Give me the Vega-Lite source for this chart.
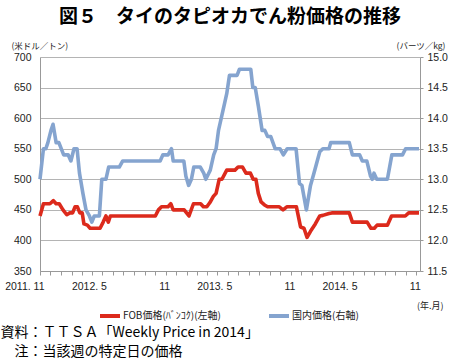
{
  "$schema": "https://vega.github.io/schema/vega-lite/v6.json",
  "autosize": "none",
  "width": 380,
  "height": 214,
  "padding": {"left": 40, "top": 57, "right": 30, "bottom": 88},
  "background": "white",
  "title": {
    "text": "図５　タイのタピオカでん粉価格の推移",
    "font": "Noto Sans CJK JP",
    "fontSize": 19,
    "fontWeight": "bold",
    "color": "#000000",
    "anchor": "middle",
    "frame": "group",
    "offset": 14
  },
  "config": {
    "view": {"stroke": null},
    "font": "Noto Sans CJK JP"
  },
  "datasets": {
    "fob": [
      {"date": "2011-11-01", "price": 440},
      {"date": "2011-11-11", "price": 460},
      {"date": "2011-11-30", "price": 460},
      {"date": "2011-12-10", "price": 465},
      {"date": "2011-12-18", "price": 460},
      {"date": "2011-12-27", "price": 460},
      {"date": "2012-01-07", "price": 450},
      {"date": "2012-01-18", "price": 442},
      {"date": "2012-01-27", "price": 445},
      {"date": "2012-02-04", "price": 445},
      {"date": "2012-02-11", "price": 455},
      {"date": "2012-02-18", "price": 455},
      {"date": "2012-02-25", "price": 445},
      {"date": "2012-03-03", "price": 445},
      {"date": "2012-03-08", "price": 427},
      {"date": "2012-03-18", "price": 425},
      {"date": "2012-03-26", "price": 420},
      {"date": "2012-04-24", "price": 420},
      {"date": "2012-05-03", "price": 430},
      {"date": "2012-05-11", "price": 440},
      {"date": "2012-05-18", "price": 430},
      {"date": "2012-05-24", "price": 440},
      {"date": "2012-10-02", "price": 440},
      {"date": "2012-10-11", "price": 450},
      {"date": "2012-10-20", "price": 455},
      {"date": "2012-11-08", "price": 455},
      {"date": "2012-11-16", "price": 460},
      {"date": "2012-11-23", "price": 450},
      {"date": "2012-12-25", "price": 450},
      {"date": "2013-01-08", "price": 440},
      {"date": "2013-01-21", "price": 460},
      {"date": "2013-02-11", "price": 460},
      {"date": "2013-02-19", "price": 455},
      {"date": "2013-03-01", "price": 455},
      {"date": "2013-03-10", "price": 462},
      {"date": "2013-03-20", "price": 472},
      {"date": "2013-03-28", "price": 477},
      {"date": "2013-04-06", "price": 500},
      {"date": "2013-04-14", "price": 500},
      {"date": "2013-04-28", "price": 515},
      {"date": "2013-05-22", "price": 515},
      {"date": "2013-05-31", "price": 520},
      {"date": "2013-06-13", "price": 520},
      {"date": "2013-06-23", "price": 510},
      {"date": "2013-07-06", "price": 510},
      {"date": "2013-07-14", "price": 500},
      {"date": "2013-07-22", "price": 500},
      {"date": "2013-07-29", "price": 477},
      {"date": "2013-08-06", "price": 463},
      {"date": "2013-08-16", "price": 458},
      {"date": "2013-08-25", "price": 455},
      {"date": "2013-09-28", "price": 455},
      {"date": "2013-10-09", "price": 450},
      {"date": "2013-10-20", "price": 455},
      {"date": "2013-11-17", "price": 455},
      {"date": "2013-11-29", "price": 422},
      {"date": "2013-12-09", "price": 420},
      {"date": "2013-12-18", "price": 405},
      {"date": "2013-12-28", "price": 415},
      {"date": "2014-01-11", "price": 427},
      {"date": "2014-01-24", "price": 440},
      {"date": "2014-02-02", "price": 441},
      {"date": "2014-02-20", "price": 444},
      {"date": "2014-02-28", "price": 445},
      {"date": "2014-04-20", "price": 445},
      {"date": "2014-04-29", "price": 430},
      {"date": "2014-06-11", "price": 430},
      {"date": "2014-06-22", "price": 420},
      {"date": "2014-07-02", "price": 420},
      {"date": "2014-07-10", "price": 425},
      {"date": "2014-08-09", "price": 425},
      {"date": "2014-08-21", "price": 440},
      {"date": "2014-09-30", "price": 440},
      {"date": "2014-10-10", "price": 445},
      {"date": "2014-11-09", "price": 445}
    ],
    "domestic": [
      {"date": "2011-11-01", "price": 13.0},
      {"date": "2011-11-11", "price": 13.5},
      {"date": "2011-11-18", "price": 13.5},
      {"date": "2011-11-24", "price": 13.6},
      {"date": "2011-12-03", "price": 13.8},
      {"date": "2011-12-09", "price": 13.9},
      {"date": "2011-12-18", "price": 13.6},
      {"date": "2011-12-26", "price": 13.6},
      {"date": "2012-01-09", "price": 13.4},
      {"date": "2012-01-22", "price": 13.4},
      {"date": "2012-01-30", "price": 13.3},
      {"date": "2012-02-08", "price": 13.5},
      {"date": "2012-02-17", "price": 13.5},
      {"date": "2012-02-24", "price": 13.1},
      {"date": "2012-03-05", "price": 12.77},
      {"date": "2012-03-14", "price": 12.5},
      {"date": "2012-03-24", "price": 12.4},
      {"date": "2012-03-31", "price": 12.3},
      {"date": "2012-04-07", "price": 12.4},
      {"date": "2012-04-22", "price": 12.4},
      {"date": "2012-04-29", "price": 13.0},
      {"date": "2012-05-11", "price": 13.0},
      {"date": "2012-05-19", "price": 13.2},
      {"date": "2012-06-19", "price": 13.2},
      {"date": "2012-06-29", "price": 13.3},
      {"date": "2012-10-16", "price": 13.3},
      {"date": "2012-10-24", "price": 13.4},
      {"date": "2012-11-08", "price": 13.4},
      {"date": "2012-11-18", "price": 13.5},
      {"date": "2012-11-23", "price": 13.3},
      {"date": "2012-12-24", "price": 13.3},
      {"date": "2012-12-30", "price": 13.05},
      {"date": "2013-01-07", "price": 12.9},
      {"date": "2013-01-15", "price": 13.0},
      {"date": "2013-01-22", "price": 13.2},
      {"date": "2013-02-10", "price": 13.2},
      {"date": "2013-02-20", "price": 13.1},
      {"date": "2013-02-26", "price": 13.0},
      {"date": "2013-03-11", "price": 13.15},
      {"date": "2013-03-21", "price": 13.4},
      {"date": "2013-03-28", "price": 13.5},
      {"date": "2013-04-04", "price": 13.8},
      {"date": "2013-04-14", "price": 14.05},
      {"date": "2013-04-22", "price": 14.25},
      {"date": "2013-04-28", "price": 14.4},
      {"date": "2013-05-06", "price": 14.7},
      {"date": "2013-05-28", "price": 14.7},
      {"date": "2013-06-04", "price": 14.8},
      {"date": "2013-07-07", "price": 14.8},
      {"date": "2013-07-13", "price": 14.5},
      {"date": "2013-07-20", "price": 14.5},
      {"date": "2013-07-29", "price": 14.2},
      {"date": "2013-08-09", "price": 13.8},
      {"date": "2013-08-17", "price": 13.8},
      {"date": "2013-08-25", "price": 13.7},
      {"date": "2013-09-03", "price": 13.7},
      {"date": "2013-09-16", "price": 13.5},
      {"date": "2013-09-30", "price": 13.5},
      {"date": "2013-10-10", "price": 13.4},
      {"date": "2013-10-21", "price": 13.5},
      {"date": "2013-11-16", "price": 13.5},
      {"date": "2013-11-26", "price": 12.93},
      {"date": "2013-12-03", "price": 12.9},
      {"date": "2013-12-16", "price": 12.5},
      {"date": "2013-12-28", "price": 12.9},
      {"date": "2014-01-07", "price": 13.1},
      {"date": "2014-01-24", "price": 13.45},
      {"date": "2014-02-02", "price": 13.5},
      {"date": "2014-02-20", "price": 13.5},
      {"date": "2014-02-25", "price": 13.6},
      {"date": "2014-04-20", "price": 13.6},
      {"date": "2014-04-29", "price": 13.4},
      {"date": "2014-05-20", "price": 13.4},
      {"date": "2014-05-28", "price": 13.3},
      {"date": "2014-06-10", "price": 13.3},
      {"date": "2014-06-21", "price": 13.05},
      {"date": "2014-06-26", "price": 13.0},
      {"date": "2014-07-01", "price": 13.1},
      {"date": "2014-07-09", "price": 13.0},
      {"date": "2014-08-09", "price": 13.0},
      {"date": "2014-08-22", "price": 13.4},
      {"date": "2014-09-22", "price": 13.4},
      {"date": "2014-10-01", "price": 13.5},
      {"date": "2014-11-09", "price": 13.5}
    ]
  },
  "layer": [
    {
      "data": {"name": "fob"},
      "mark": {"type": "line", "strokeWidth": 3.6, "strokeJoin": "round"},
      "encoding": {
        "x": {
          "field": "date",
          "type": "temporal",
          "scale": {
            "type": "utc",
            "domain": [
              {"year": 2011, "month": 11, "date": 1, "utc": true},
              {"year": 2014, "month": 11, "date": 12, "utc": true}
            ]
          },
          "axis": {
            "orient": "bottom",
            "title": "(年.月)",
            "titleX": 403,
            "titleY": 34,
            "titleAlign": "right",
            "titleBaseline": "middle",
            "titleFontSize": 9,
            "titleFontWeight": "normal",
            "titleColor": "#222222",
            "tickCount": {"interval": "month", "step": 1},
            "labelExpr": "utcFormat(datum.value, '%m') == '11' ? (utcFormat(datum.value, '%Y') == '2011' ? '2011. 11' : '11') : (utcFormat(datum.value, '%m') == '05' ? utcFormat(datum.value, '%Y') + '. 5' : '')",
            "labelOverlap": false,
            "labelFlush": false,
            "labelAlign": "right",
            "labelOffset": 4,
            "labelFont": "Liberation Sans Narrow, Liberation Sans, sans-serif",
            "labelFontSize": 10.5,
            "labelColor": "#222222",
            "labelPadding": 6,
            "tickSize": 4,
            "tickColor": "#999999",
            "domainColor": "#999999",
            "grid": false
          }
        },
        "y": {
          "field": "price",
          "type": "quantitative",
          "scale": {"domain": [350, 700], "nice": false, "zero": false},
          "axis": {
            "orient": "left",
            "title": "(米ドル／トン)",
            "titleAngle": 0,
            "titleX": -29,
            "titleY": -12,
            "titleAlign": "left",
            "titleBaseline": "middle",
            "titleFontSize": 8.5,
            "titleFontWeight": "normal",
            "titleColor": "#222222",
            "values": [350, 400, 450, 500, 550, 600, 650, 700],
            "grid": true,
            "gridColor": "#b4b4b4",
            "domainColor": "#999999",
            "tickSize": 0,
            "labelPadding": 9,
            "labelFont": "Liberation Sans Narrow, Liberation Sans, sans-serif",
            "labelFontSize": 10.5,
            "labelColor": "#222222"
          }
        },
        "color": {
          "datum": "FOB価格(ﾊﾞﾝｺｸ)(左軸)",
          "type": "nominal",
          "scale": {
            "domain": ["FOB価格(ﾊﾞﾝｺｸ)(左軸)", "国内価格(右軸)"],
            "range": ["#dc2a1c", "#85a4cf"]
          },
          "legend": {
            "orient": "none",
            "legendX": 58,
            "legendY": 247,
            "direction": "horizontal",
            "title": null,
            "symbolType": "stroke",
            "symbolSize": 400,
            "symbolStrokeWidth": 4,
            "labelFont": "Noto Sans CJK JP",
            "labelFontSize": 10,
            "labelColor": "#222222",
            "labelOffset": 1,
            "columnPadding": 40,
            "padding": 0
          }
        }
      }
    },
    {
      "data": {"name": "domestic"},
      "mark": {"type": "line", "strokeWidth": 3.6, "strokeJoin": "round"},
      "encoding": {
        "x": {
          "field": "date",
          "type": "temporal",
          "scale": {
            "type": "utc",
            "domain": [
              {"year": 2011, "month": 11, "date": 1, "utc": true},
              {"year": 2014, "month": 11, "date": 12, "utc": true}
            ]
          },
          "axis": {
            "orient": "bottom",
            "labels": false,
            "ticks": false,
            "domain": false,
            "grid": false,
            "title": ["資料：ＴＴＳＡ「Weekly Price in 2014」", "\u200b　注：当該週の特定日の価格"],
            "titleX": -40,
            "titleY": 61,
            "titleAlign": "left",
            "titleBaseline": "middle",
            "titleFont": "Noto Sans CJK JP",
            "titleFontSize": 14,
            "titleFontWeight": "normal",
            "titleLineHeight": 19.5,
            "titleColor": "#000000"
          }
        },
        "y": {
          "field": "price",
          "type": "quantitative",
          "scale": {"domain": [11.5, 15], "nice": false, "zero": false},
          "axis": {
            "orient": "right",
            "title": "(バーツ／kg)",
            "titleAngle": 0,
            "titleX": 25,
            "titleY": -12,
            "titleAlign": "right",
            "titleBaseline": "middle",
            "titleFontSize": 8.5,
            "titleFontWeight": "normal",
            "titleColor": "#222222",
            "values": [11.5, 12, 12.5, 13, 13.5, 14, 14.5, 15],
            "format": ".1f",
            "grid": false,
            "domainColor": "#999999",
            "tickColor": "#999999",
            "tickSize": 3,
            "labelPadding": 4,
            "labelFont": "Liberation Sans Narrow, Liberation Sans, sans-serif",
            "labelFontSize": 10.5,
            "labelColor": "#222222"
          }
        },
        "color": {"datum": "国内価格(右軸)", "type": "nominal"}
      }
    }
  ],
  "resolve": {"scale": {"x": "independent", "y": "independent"}}
}
